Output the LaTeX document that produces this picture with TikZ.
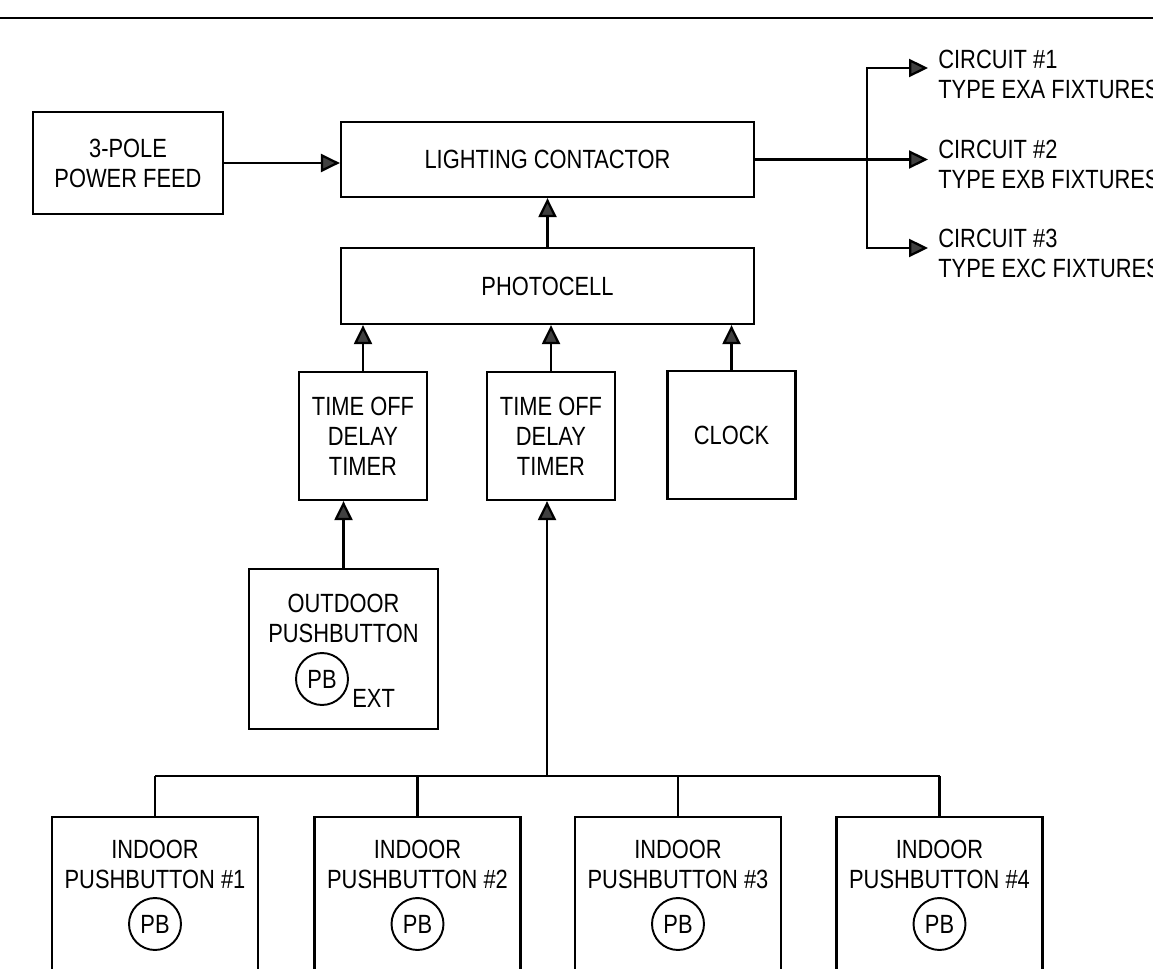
\documentclass[tikz,border=0pt]{standalone}
\usepackage{fontspec}
\setmainfont[FakeStretch=0.83]{Liberation Sans}
\usetikzlibrary{arrows.meta,positioning}

\begin{document}
\begin{tikzpicture}[
    x=0.02cm, y=-0.02cm,
    font=\fontsize{15}{17}\selectfont,
    blk/.style={draw, line width=1.3pt, align=center, inner sep=0pt},
    lbl/.style={align=center, inner sep=0pt},
    pbcirc/.style={draw, circle, line width=1.1pt, minimum size=1.04cm, inner sep=0pt},
    wire/.style={line width=1.3pt},
    arr/.style={wire, -{Triangle[length=0.38cm, width=0.36cm, fill=black!75]}},
  ]
  \useasboundingbox (0,0) rectangle (1153,969);
  \clip (0,0) rectangle (1153,969);
  \draw[line width=1.6pt] (0,18) -- (1153,18);

  % main chain
  \node[blk, minimum width=3.8cm, minimum height=2.04cm] (feed) at (128,163) {3-POLE\\POWER FEED};
  \node[blk, minimum width=8.26cm, minimum height=1.5cm] (contactor) at (547.5,159.5) {LIGHTING CONTACTOR};
  \node[blk, minimum width=8.26cm, minimum height=1.52cm] (photocell) at (547.5,286) {PHOTOCELL};
  \node[blk, minimum size=2.56cm] (timerA) at (363,436) {TIME OFF\\DELAY\\TIMER};
  \node[blk, minimum size=2.56cm] (timerB) at (551,436) {TIME OFF\\DELAY\\TIMER};
  \node[blk, minimum size=2.56cm] (clock) at (731.5,435) {CLOCK};

  % outdoor pushbutton
  \node[blk, minimum width=3.78cm, minimum height=3.2cm] (outdoor) at (343.5,649) {};
  \node[lbl] (outdoorlbl) at (343.5,618) {OUTDOOR\\PUSHBUTTON};
  \node[pbcirc] (pbext) at (322,679) {PB};
  \node[lbl, anchor=west] (ext) at (352,698) {EXT};

  % outputs
  \node[lbl, align=left, anchor=west] (circ1) at (938,74) {CIRCUIT \#1\\TYPE EXA FIXTURES};
  \node[lbl, align=left, anchor=west] (circ2) at (938,164) {CIRCUIT \#2\\TYPE EXB FIXTURES};
  \node[lbl, align=left, anchor=west] (circ3) at (938,253) {CIRCUIT \#3\\TYPE EXC FIXTURES};
  \coordinate (split) at (867,159.5);

  % indoor pushbuttons
  \foreach \i/\x in {1/155,2/417.5,3/678,4/939.5} {
    \node[blk, minimum width=4.12cm, minimum height=4.2cm, anchor=north] (indoor\i) at (\x,816) {};
    \node[lbl] (indoorlbl\i) at (\x,864) {INDOOR\\PUSHBUTTON \#\i};
    \node[pbcirc] (pb\i) at (\x,924) {PB};
  }
  \coordinate (bus) at (547,776);

  \draw[arr] (feed.east) -- (feed.east -| contactor.west);
  \draw[arr] (photocell.north) -- (contactor.south);
  \draw[arr] (timerA.north) -- (timerA.north |- photocell.south);
  \draw[arr] (timerB.north) -- (timerB.north |- photocell.south);
  \draw[arr] (clock.north) -- (clock.north |- photocell.south);
  \draw[arr] (outdoor.north) -- (outdoor.north |- timerA.south);

  \draw[wire] (contactor.east) -- (split);
  \draw[arr] (split) |- ([xshift=-0.2cm, yshift=0.12cm]circ1.west);
  \draw[arr] (split) -- ([xshift=-0.2cm]split -| circ2.west);
  \draw[arr] (split) |- ([xshift=-0.2cm, yshift=0.1cm]circ3.west);

  \draw[arr] (bus) -- (bus |- timerB.south);
  \draw[wire] (indoor1.north |- bus) -- (indoor4.north |- bus);
  \foreach \i in {1,...,4}
    \draw[wire] (indoor\i.north |- bus) -- (indoor\i.north);
\end{tikzpicture}
\end{document}
